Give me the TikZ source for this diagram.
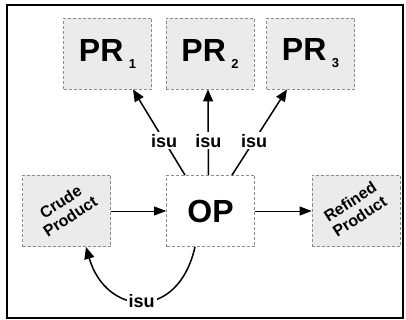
\documentclass[tikz,border=0pt]{standalone}
\usepackage{fontspec}
\setmainfont{Liberation Sans}
\usetikzlibrary{arrows.meta,calc}
\tikzset{
  box/.style={draw=black!45, dash pattern=on 3pt off 2pt, line width=0.8pt, fill=black!8,
    minimum width=88pt, minimum height=71pt, inner sep=0pt, font=\bfseries},
  opbox/.style={box, fill=white},
  flow/.style={line width=1pt, -{Triangle[length=12pt,width=9pt]}},
  rel/.style={line width=1.5pt, -{Triangle[length=12pt,width=10pt]}},
  lbl/.style={fill=white, inner sep=2pt, font=\fontsize{18}{18}\bfseries\selectfont},
  big/.style={font=\fontsize{32}{32}\bfseries\selectfont},
  small/.style={font=\fontsize{16}{17.5}\bfseries\selectfont}
}
\newcommand{\prsub}[1]{PR\,\raisebox{-7pt}{\fontsize{13}{13}\bfseries\selectfont #1}}
\newcommand{\rottext}[2]{\rotatebox{33}{\begin{tabular}{@{}c@{}}#1\\#2\end{tabular}}}
\begin{document}
\begin{tikzpicture}[x=1pt,y=-1pt]
\useasboundingbox (0,0) rectangle (406,320);
\draw[line width=2pt] (7,5) rectangle (403,318);
\node[box, big] (PR1) at (107.5,53.5) {\prsub{1}};
\node[box, big] (PR2) at (210,53.5) {\prsub{2}};
\node[box, big] (PR3) at (310.5,53.5) {\prsub{3}};
\node[box, small] (C) at (66.5,211) {\rottext{Crude}{Product}};
\node[opbox, big] (OP) at (210.5,211) {OP};
\node[box, small] (R) at (356,211) {\rottext{Refined}{Product}};
\draw[flow] (C.east) -- (OP.west);
\draw[flow] (OP.east) -- (R.west);
\draw[rel] ($(OP.north)+(-25.5,0)$) -- node[lbl, pos=0.4] (l1) {isu} ($(PR1.south)+(25.5,0)$);
\draw[rel] ($(OP.north)+(-2,0)$) -- node[lbl, pos=0.4] (l2) {isu} ($(PR2.south)+(-2,0)$);
\draw[rel] ($(OP.north)+(21.5,0)$) -- node[lbl, pos=0.4] (l3) {isu} ($(PR3.south)+(-23.5,0)$);
\draw[rel] ($(OP.south)+(-15.5,0)$) .. controls (178,322) and (106,316) .. node[lbl] (l4) {isu} ($(C.south)+(19.5,0)$);
\end{tikzpicture}
\end{document}
